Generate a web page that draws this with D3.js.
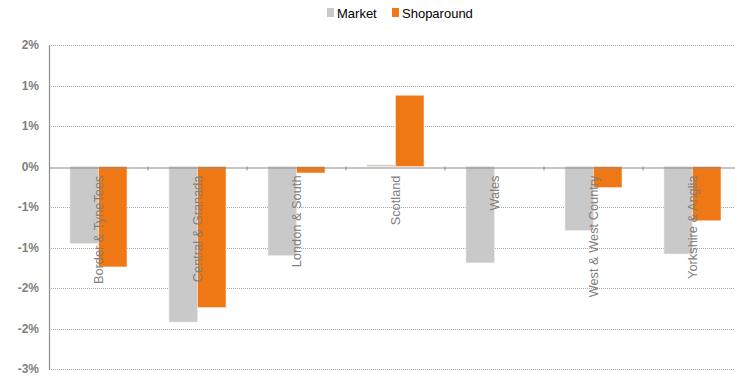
<!DOCTYPE html>
<html>
<head>
<meta charset="utf-8">
<script src="https://cdn.jsdelivr.net/npm/d3@7"></script>
<style>
  body { margin: 0; background: #fff; }
  svg { display: block; font-family: "Liberation Sans", Arial, sans-serif; }
</style>
</head>
<body>
<svg id="chart" width="735" height="379"></svg>
<script>
const regions = ["Border & TyneTees", "Central & Granada", "London & South", "Scotland", "Wales", "West & West Country", "Yorkshire & Anglia"];
const market = [-0.95, -1.92, -1.10, 0.02, -1.19, -0.79, -1.08];
const shoparound = [-1.24, -1.74, -0.08, 0.88, 0.0, -0.26, -0.67];
const tickValues = [1.5, 1, 0.5, 0, -0.5, -1, -1.5, -2, -2.5];
const tickLabels = ["2%", "1%", "1%", "0%", "-1%", "-1%", "-2%", "-2%", "-3%"];
const seriesNames = ["Market", "Shoparound"];

const colors = {"Market": "#c9c9c9", "Shoparound": "#f07814"};

const svg = d3.select("#chart"),
    margin = {top: 45, left: 49};

const x = d3.scaleBand()
    .domain(regions)
    .range([margin.left, margin.left + 7 * 99]);

const y = d3.scaleLinear()
    .domain([-2.5, 1.5])
    .range([369, margin.top]);

const xs = d3.scaleBand()
    .domain(seriesNames)
    .range([0, x.bandwidth()])
    .paddingOuter(0.737);

// gridlines
svg.append("g")
    .selectAll("line")
    .data(tickValues.filter(v => v !== 0))
    .join("line")
    .attr("x1", margin.left)
    .attr("x2", 735)
    .attr("y1", d => Math.round(y(d)) + 0.5)
    .attr("y2", d => Math.round(y(d)) + 0.5)
    .attr("stroke", "#a8a8a8")
    .attr("stroke-dasharray", "1,1");

// bars
const data = regions.map((r, i) => ({region: r, values: [
    {key: "Market", val: market[i]},
    {key: "Shoparound", val: shoparound[i]}
]}));

svg.append("g")
    .selectAll("g")
    .data(data)
    .join("g")
    .attr("transform", d => "translate(" + x(d.region) + ",0)")
    .selectAll("rect")
    .data(d => d.values)
    .join("rect")
    .attr("x", d => xs(d.key))
    .attr("width", xs.bandwidth())
    .attr("y", d => y(Math.max(0, d.val)))
    .attr("height", d => Math.abs(y(d.val) - y(0)))
    .attr("fill", d => colors[d.key])
    .attr("stroke", "#fbe9dc")
    .attr("stroke-width", 0.6);

// y axis
const yAxis = svg.append("g")
    .attr("transform", "translate(" + margin.left + ",0)")
    .call(d3.axisLeft(y).tickValues(tickValues).tickSize(0).tickPadding(10)
        .tickFormat((d, i) => tickLabels[i]));
yAxis.select(".domain").attr("stroke", "#8c8c8c").attr("stroke-width", 1.2);
yAxis.selectAll("text")
    .attr("font-size", 12)
    .attr("font-weight", "bold")
    .attr("fill", "#7f7f7f")
    .attr("font-family", "Liberation Sans, Arial, sans-serif");

// x axis at zero
const xAxis = svg.append("g")
    .attr("transform", "translate(0," + (Math.round(y(0)) + 0.5) + ")")
    .call(d3.axisBottom(x).tickSizeOuter(0).tickSizeInner(0).tickFormat(""));
xAxis.select(".domain").attr("stroke", "#8c8c8c").attr("stroke-width", 1.2);

svg.append("g")
    .selectAll("line")
    .data(regions.slice(1))
    .join("line")
    .attr("x1", d => x(d))
    .attr("x2", d => x(d))
    .attr("y1", y(0))
    .attr("y2", y(0) + 4)
    .attr("stroke", "#8c8c8c");

// category labels, rotated
svg.append("g")
    .selectAll("text")
    .data(regions)
    .join("text")
    .attr("transform", d => "translate(" + (x(d) + x.bandwidth() / 2 + 4.5) + "," + (y(0) + 9) + ") rotate(-90)")
    .attr("text-anchor", "end")
    .attr("font-size", 12.8)
    .attr("fill", "#808080")
    .text(d => d);

// legend
const legend = svg.append("g").attr("transform", "translate(327,7)");
const li = legend.selectAll("g")
    .data(seriesNames)
    .join("g")
    .attr("transform", (d, i) => "translate(" + (i * 65) + ",0)");
li.append("rect")
    .attr("width", 7)
    .attr("height", 9)
    .attr("y", 1)
    .attr("fill", d => colors[d]);
li.append("text")
    .attr("x", 10)
    .attr("y", 10.5)
    .attr("font-size", 13)
    .attr("fill", "#000")
    .text(d => d);
</script>
</body>
</html>
